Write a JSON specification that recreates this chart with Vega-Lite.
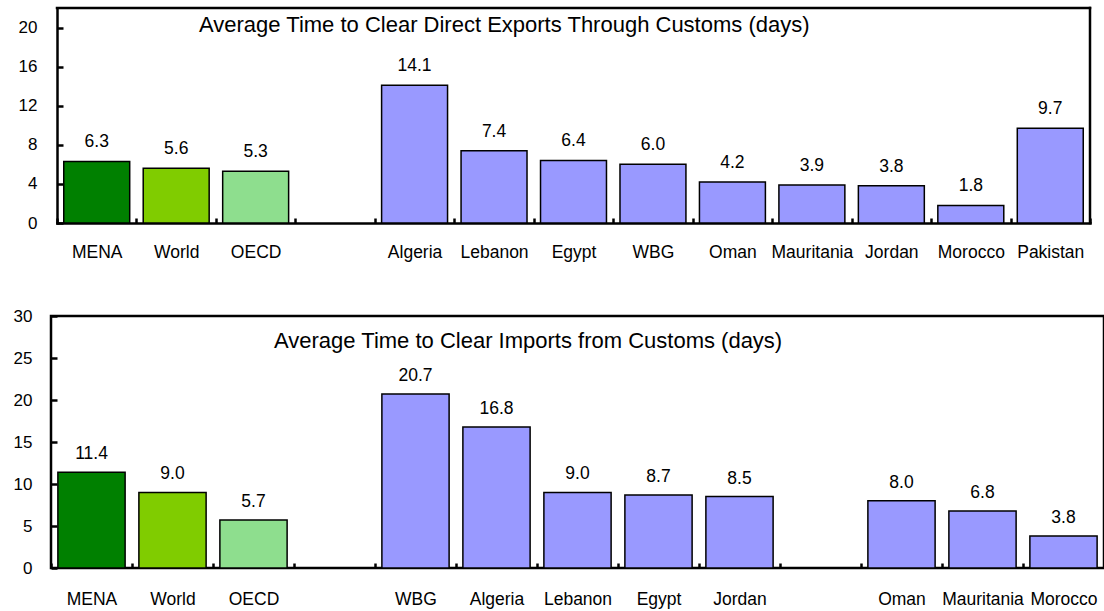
{
  "$schema": "https://vega.github.io/schema/vega-lite/v6.json",
  "background": "white",
  "padding": {"left": 5, "top": 6, "right": 0, "bottom": 0},
  "config": {
    "font": "Liberation Sans",
    "view": {"stroke": "black", "strokeWidth": 2.5},
    "axis": {
      "grid": false,
      "domain": false,
      "title": null,
      "labelFont": "Liberation Sans",
      "labelColor": "black",
      "tickColor": "black",
      "tickWidth": 2.5,
      "domainColor": "black",
      "domainWidth": 2.5,
      "domainCap": "square"
    },
    "axisX": {
      "labelFontSize": 17.5,
      "labelAngle": 0,
      "labelOverlap": false,
      "labelBaseline": "top",
      "tickBand": "extent",
      "tickSize": -5
    },
    "axisY": {
      "labelFontSize": 17,
      "tickSize": -6
    },
    "title": {
      "anchor": "start",
      "frame": "group",
      "baseline": "alphabetic",
      "font": "Liberation Sans",
      "fontSize": 22,
      "fontWeight": "normal",
      "color": "black"
    }
  },
  "datasets": {
    "exports": [
      {"name": "MENA", "kind": "MENA", "days": 6.3},
      {"name": "World", "kind": "World", "days": 5.6},
      {"name": "OECD", "kind": "OECD", "days": 5.3},
      {"name": "Algeria", "kind": "Country", "days": 14.1},
      {"name": "Lebanon", "kind": "Country", "days": 7.4},
      {"name": "Egypt", "kind": "Country", "days": 6.4},
      {"name": "WBG", "kind": "Country", "days": 6.0},
      {"name": "Oman", "kind": "Country", "days": 4.2},
      {"name": "Mauritania", "kind": "Country", "days": 3.9},
      {"name": "Jordan", "kind": "Country", "days": 3.8},
      {"name": "Morocco", "kind": "Country", "days": 1.8},
      {"name": "Pakistan", "kind": "Country", "days": 9.7}
    ],
    "imports": [
      {"name": "MENA", "kind": "MENA", "days": 11.4},
      {"name": "World", "kind": "World", "days": 9.0},
      {"name": "OECD", "kind": "OECD", "days": 5.7},
      {"name": "WBG", "kind": "Country", "days": 20.7},
      {"name": "Algeria", "kind": "Country", "days": 16.8},
      {"name": "Lebanon", "kind": "Country", "days": 9.0},
      {"name": "Egypt", "kind": "Country", "days": 8.7},
      {"name": "Jordan", "kind": "Country", "days": 8.5},
      {"name": "Oman", "kind": "Country", "days": 8.0},
      {"name": "Mauritania", "kind": "Country", "days": 6.8},
      {"name": "Morocco", "kind": "Country", "days": 3.8}
    ]
  },
  "columns": 1,
  "align": "none",
  "spacing": 37,
  "concat": [
    {
      "width": 1039,
      "height": 215,
      "view": {"stroke": null},
      "title": {
        "text": "Average Time to Clear Direct Exports Through Customs (days)",
        "dx": 148,
        "offset": -31
      },
      "layer": [
        {
          "data": {"name": "exports"},
          "encoding": {
            "x": {
              "field": "name",
              "type": "nominal",
              "sort": null,
              "scale": {
                "domain": ["MENA", "World", "OECD", " ", "Algeria", "Lebanon", "Egypt", "WBG", "Oman", "Mauritania", "Jordan", "Morocco", "Pakistan"],
                "range": [6, 1039],
                "paddingInner": 0,
                "paddingOuter": 0
              },
              "axis": {"domain": true, "labelPadding": 25, "minExtent": 45, "maxExtent": 45}
            },
            "y": {
              "field": "days",
              "type": "quantitative",
              "scale": {"domain": [0, 22], "nice": false},
              "axis": {"values": [0, 4, 8, 12, 16, 20], "domain": true, "offset": -6, "labelPadding": 26}
            }
          },
          "layer": [
            {
              "mark": {"type": "bar", "width": {"band": 0.83}, "stroke": "black", "strokeWidth": 1.5},
              "encoding": {
                "color": {
                  "field": "kind",
                  "type": "nominal",
                  "scale": {"domain": ["MENA", "World", "OECD", "Country"], "range": ["#008000", "#80CC00", "#8EDE8E", "#9999FF"]},
                  "legend": null
                }
              }
            },
            {
              "mark": {"type": "text", "dy": -14, "baseline": "alphabetic", "fontSize": 17.5, "color": "black"},
              "encoding": {"text": {"field": "days", "type": "quantitative", "format": ".1f"}}
            }
          ]
        },
        {
          "data": {"values": [{}]},
          "mark": {"type": "rule", "color": "black", "strokeWidth": 2.5, "strokeCap": "square"},
          "encoding": {"x": {"datum": "Pakistan", "type": "nominal", "bandPosition": 1}}
        },
        {
          "data": {"values": [{}]},
          "mark": {"type": "rule", "color": "black", "strokeWidth": 2.5, "strokeCap": "square"},
          "encoding": {
            "y": {"datum": 22, "type": "quantitative"},
            "x": {"datum": "MENA", "type": "nominal", "bandPosition": 0},
            "x2": {"datum": "Pakistan", "bandPosition": 1}
          }
        }
      ]
    },
    {
      "width": 1053,
      "height": 252,
      "data": {"name": "imports"},
      "title": {
        "text": "Average Time to Clear Imports from Customs (days)",
        "dx": 223,
        "offset": -46
      },
      "encoding": {
        "x": {
          "field": "name",
          "type": "nominal",
          "sort": null,
          "scale": {
            "domain": ["MENA", "World", "OECD", " ", "WBG", "Algeria", "Lebanon", "Egypt", "Jordan", "  ", "Oman", "Mauritania", "Morocco"],
            "paddingInner": 0,
            "paddingOuter": 0
          },
          "axis": {"labelPadding": 27}
        },
        "y": {
          "field": "days",
          "type": "quantitative",
          "scale": {"domain": [0, 30], "nice": false},
          "axis": {"values": [0, 5, 10, 15, 20, 25, 30], "labelPadding": 25, "minExtent": 44, "maxExtent": 44}
        }
      },
      "layer": [
        {
          "mark": {"type": "bar", "width": {"band": 0.83}, "stroke": "black", "strokeWidth": 1.5},
          "encoding": {
            "color": {
              "field": "kind",
              "type": "nominal",
              "scale": {"domain": ["MENA", "World", "OECD", "Country"], "range": ["#008000", "#80CC00", "#8EDE8E", "#9999FF"]},
              "legend": null
            }
          }
        },
        {
          "mark": {"type": "text", "dy": -13, "baseline": "alphabetic", "fontSize": 17.5, "color": "black"},
          "encoding": {"text": {"field": "days", "type": "quantitative", "format": ".1f"}}
        }
      ]
    }
  ]
}
